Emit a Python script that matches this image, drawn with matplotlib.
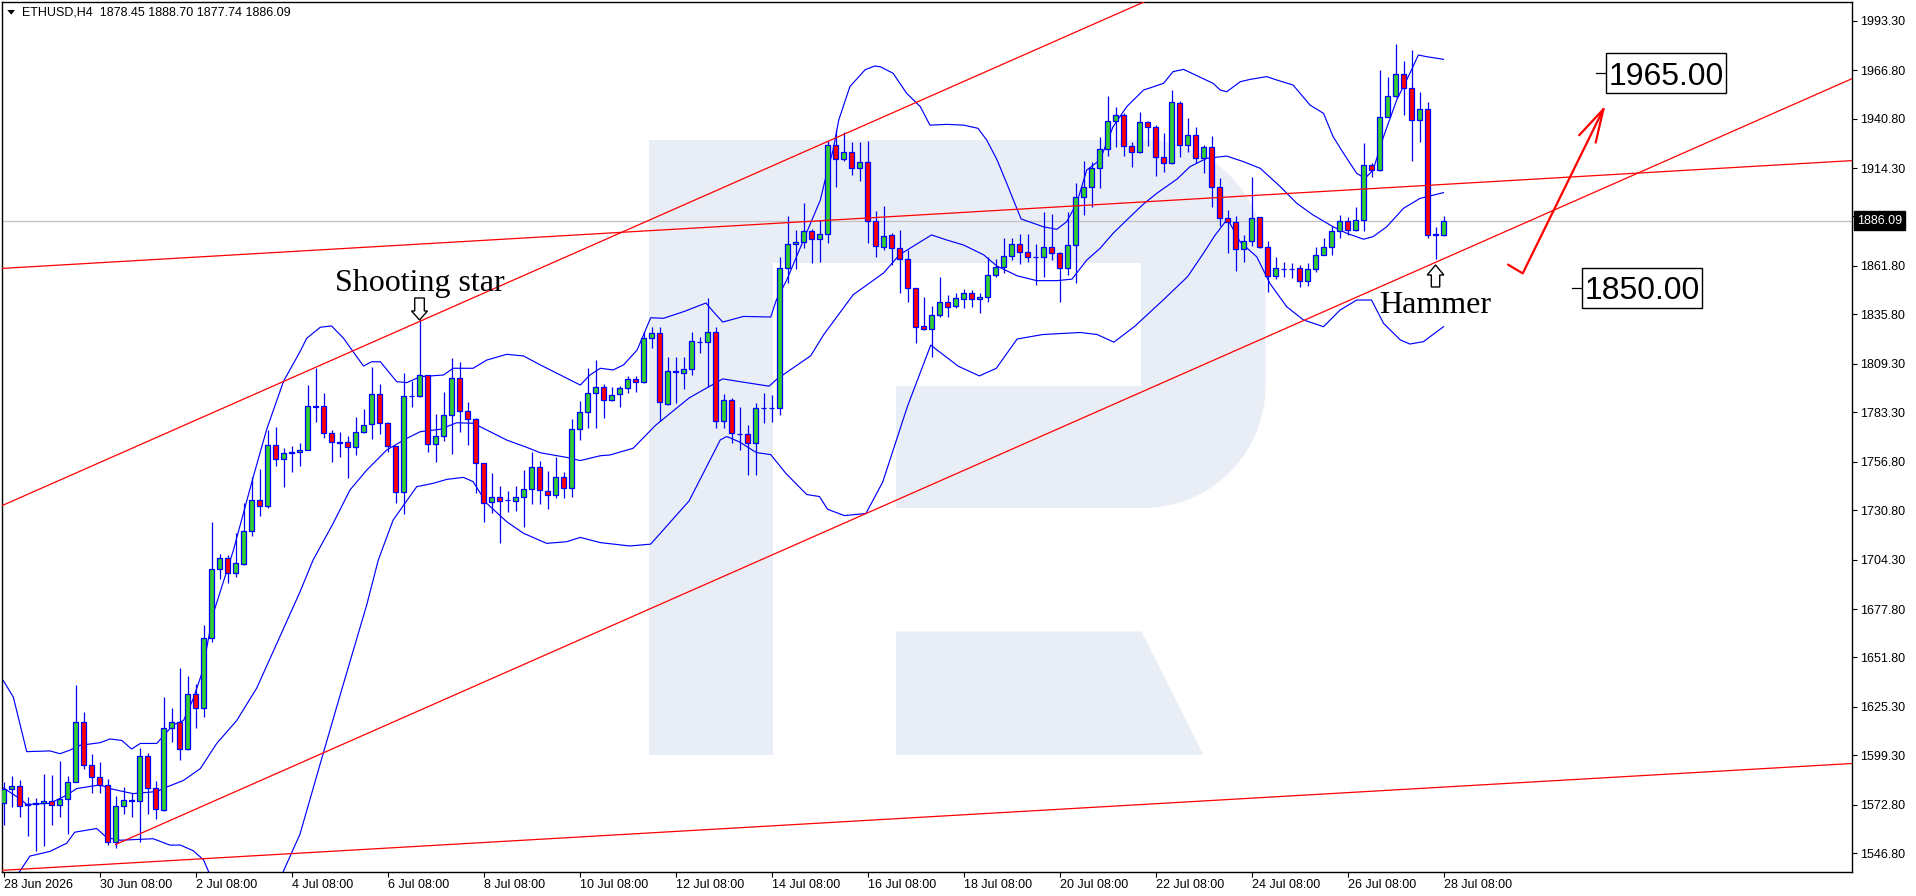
import numpy as np
import matplotlib
matplotlib.use("Agg")
import matplotlib.pyplot as plt
from matplotlib.patches import Rectangle, Polygon
from matplotlib.collections import LineCollection, PatchCollection
import matplotlib.transforms as mtransforms

plt.rcParams['font.family'] = ['Liberation Sans', 'DejaVu Sans']

# ---------------- data ----------------
symbol = "ETHUSD,H4"

opens = [1574.0, 1581.5, 1582.7, 1572.8, 1573.2, 1573.6, 1574.8, 1572.8, 1576.0, 1585.1,
         1617.2, 1594.2, 1587.7, 1583.5, 1552.6, 1572.4, 1575.0, 1575.0, 1599.0, 1581.9,
         1570.0, 1614.0, 1617.2, 1602.7, 1632.1, 1624.5, 1662.2, 1699.2, 1705.2, 1696.9,
         1702.2, 1719.6, 1736.1, 1732.9, 1765.6, 1758.3, 1761.7, 1761.9, 1763.3, 1786.7,
         1786.7, 1772.0, 1767.2, 1767.2, 1764.5, 1772.6, 1777.0, 1792.9, 1777.6, 1765.0,
         1740.4, 1792.0, 1792.2, 1803.1, 1766.3, 1770.6, 1781.8, 1801.5, 1784.0, 1779.7,
         1755.9, 1735.2, 1738.0, 1736.3, 1735.7, 1737.7, 1742.2, 1753.8, 1741.1, 1738.8,
         1748.4, 1742.5, 1774.2, 1783.3, 1793.5, 1796.7, 1789.9, 1792.9, 1796.2, 1801.0,
         1799.4, 1822.9, 1825.6, 1787.7, 1805.3, 1804.6, 1806.3, 1821.2, 1820.8, 1826.2,
         1778.4, 1789.9, 1771.6, 1771.6, 1766.6, 1785.4, 1785.4, 1785.4, 1860.5, 1873.4,
         1874.8, 1880.7, 1876.0, 1878.7, 1926.6, 1918.9, 1923.1, 1914.1, 1917.7, 1885.9,
         1871.8, 1878.4, 1871.2, 1865.3, 1849.8, 1829.6, 1827.8, 1835.3, 1842.3, 1840.5,
         1844.2, 1847.1, 1844.2, 1845.3, 1856.7, 1861.0, 1867.1, 1873.4, 1869.4, 1866.4,
         1866.4, 1871.8, 1868.5, 1860.5, 1872.8, 1898.9, 1904.3, 1914.1, 1924.3, 1939.3,
         1942.5, 1926.1, 1922.7, 1938.8, 1936.1, 1920.4, 1916.8, 1949.3, 1926.5, 1931.8,
         1919.5, 1925.7, 1903.9, 1887.3, 1885.5, 1870.7, 1875.3, 1887.8, 1872.1, 1856.6,
         1860.1, 1860.1, 1860.5, 1853.7, 1860.0, 1867.5, 1871.8, 1880.5, 1885.7, 1881.1,
         1886.2, 1915.7, 1913.2, 1941.8, 1952.9, 1964.7, 1957.0, 1940.1, 1946.1, 1878.4,
         1878.45]
highs = [1584.9, 1588.3, 1586.3, 1577.0, 1576.4, 1589.4, 1588.9, 1596.4, 1588.3, 1637.0,
         1622.5, 1599.8, 1595.8, 1586.7, 1577.6, 1582.3, 1578.9, 1603.3, 1600.8, 1585.3,
         1630.5, 1624.5, 1645.9, 1642.0, 1637.4, 1669.1, 1724.6, 1707.2, 1706.8, 1718.3,
         1734.5, 1748.4, 1752.8, 1773.8, 1775.5, 1764.2, 1765.2, 1766.6, 1797.9, 1806.9,
         1793.5, 1773.8, 1772.6, 1770.6, 1780.6, 1785.2, 1807.4, 1798.3, 1777.9, 1765.0,
         1804.2, 1800.2, 1832.8, 1803.1, 1782.4, 1794.4, 1812.6, 1810.3, 1788.8, 1780.1,
         1755.9, 1750.6, 1743.8, 1741.1, 1743.8, 1752.3, 1762.2, 1757.4, 1751.6, 1759.1,
         1751.1, 1779.7, 1789.5, 1806.9, 1811.3, 1798.5, 1797.0, 1797.4, 1802.8, 1802.8,
         1827.1, 1828.8, 1828.8, 1812.8, 1812.8, 1812.8, 1826.4, 1823.8, 1844.4, 1829.2,
         1793.1, 1790.8, 1786.3, 1776.5, 1788.1, 1793.8, 1792.4, 1866.8, 1888.5, 1881.0,
         1895.4, 1881.6, 1886.4, 1929.0, 1934.7, 1933.8, 1928.4, 1928.4, 1929.0, 1891.4,
         1893.9, 1879.3, 1881.0, 1870.3, 1849.8, 1845.3, 1840.3, 1856.0, 1846.2, 1847.1,
         1849.2, 1848.9, 1847.1, 1866.4, 1865.3, 1876.6, 1876.6, 1878.9, 1878.9, 1873.5,
         1890.9, 1889.6, 1869.4, 1890.9, 1906.4, 1918.2, 1917.7, 1930.7, 1953.1, 1946.8,
         1943.6, 1928.1, 1944.5, 1939.7, 1937.2, 1933.2, 1956.1, 1950.4, 1940.9, 1936.1,
         1926.6, 1931.5, 1908.8, 1891.8, 1888.6, 1878.4, 1909.7, 1888.2, 1875.3, 1866.4,
         1863.7, 1863.2, 1862.3, 1863.2, 1872.1, 1876.6, 1883.2, 1889.1, 1887.8, 1893.2,
         1927.5, 1917.2, 1966.9, 1962.9, 1980.8, 1971.9, 1977.6, 1955.2, 1949.9, 1882.5,
         1888.70]
lows = [1562.1, 1571.6, 1566.5, 1556.2, 1548.2, 1550.6, 1562.1, 1566.5, 1557.1, 1584.9,
        1591.8, 1578.9, 1578.9, 1551.0, 1549.8, 1568.0, 1566.1, 1552.6, 1568.0, 1565.1,
        1569.6, 1606.7, 1596.8, 1602.1, 1614.0, 1620.0, 1660.2, 1693.9, 1691.9, 1694.9,
        1701.4, 1716.7, 1727.6, 1732.1, 1754.7, 1743.4, 1751.4, 1754.3, 1763.1, 1778.3,
        1769.3, 1756.5, 1759.5, 1748.2, 1760.4, 1772.4, 1768.8, 1771.5, 1762.2, 1734.5,
        1728.6, 1786.3, 1791.7, 1762.2, 1756.8, 1768.1, 1760.7, 1772.9, 1765.7, 1740.2,
        1724.6, 1729.1, 1713.0, 1730.0, 1730.5, 1721.6, 1733.9, 1734.1, 1731.3, 1737.2,
        1737.2, 1737.7, 1768.4, 1774.7, 1774.7, 1780.4, 1789.3, 1785.9, 1793.8, 1794.4,
        1798.8, 1817.9, 1778.8, 1787.2, 1788.5, 1796.0, 1803.5, 1814.9, 1797.0, 1774.7,
        1774.7, 1767.0, 1763.1, 1749.7, 1749.7, 1777.7, 1778.3, 1781.8, 1852.5, 1860.0,
        1871.6, 1863.6, 1864.1, 1874.3, 1903.9, 1918.2, 1910.5, 1907.5, 1874.3, 1866.8,
        1870.3, 1862.3, 1847.4, 1842.6, 1820.3, 1827.4, 1813.1, 1834.6, 1834.6, 1839.0,
        1839.0, 1839.6, 1836.7, 1842.6, 1855.7, 1857.8, 1865.0, 1862.8, 1864.1, 1851.4,
        1856.0, 1865.0, 1842.6, 1856.9, 1852.8, 1889.1, 1893.6, 1903.8, 1920.7, 1925.4,
        1920.7, 1914.7, 1922.1, 1926.1, 1910.2, 1912.3, 1916.3, 1920.4, 1923.1, 1916.8,
        1911.8, 1893.6, 1883.2, 1868.9, 1859.2, 1864.1, 1872.5, 1871.2, 1847.6, 1854.6,
        1855.7, 1855.1, 1850.7, 1851.0, 1858.7, 1867.5, 1867.5, 1876.6, 1878.4, 1880.3,
        1880.7, 1909.7, 1912.9, 1941.5, 1952.6, 1942.7, 1918.2, 1928.4, 1876.6, 1865.3,
        1877.74]
closes = [1581.5, 1582.9, 1572.4, 1573.2, 1573.6, 1575.0, 1572.8, 1576.0, 1585.1, 1617.2,
          1594.2, 1587.9, 1583.5, 1552.6, 1572.0, 1575.4, 1575.4, 1599.0, 1581.9, 1570.4,
          1614.0, 1617.2, 1602.7, 1632.1, 1624.7, 1662.2, 1699.2, 1705.2, 1696.9, 1702.4,
          1719.6, 1736.1, 1732.9, 1765.6, 1758.3, 1761.3, 1762.1, 1763.3, 1786.7, 1786.3,
          1772.0, 1767.2, 1767.0, 1764.5, 1772.6, 1776.3, 1792.9, 1777.4, 1765.2, 1740.4,
          1792.0, 1792.2, 1803.1, 1766.3, 1770.6, 1781.8, 1801.5, 1784.0, 1779.7, 1755.9,
          1734.5, 1738.0, 1735.9, 1736.3, 1737.7, 1742.2, 1753.8, 1741.6, 1738.8, 1748.4,
          1742.5, 1774.2, 1783.3, 1793.5, 1797.0, 1789.9, 1792.8, 1796.2, 1801.0, 1799.4,
          1822.9, 1825.6, 1788.6, 1805.3, 1804.9, 1806.3, 1821.3, 1821.2, 1826.2, 1778.4,
          1789.9, 1772.0, 1771.6, 1766.6, 1785.4, 1785.4, 1785.4, 1860.5, 1873.4, 1874.8,
          1880.7, 1876.0, 1878.7, 1926.6, 1918.9, 1923.1, 1914.1, 1917.7, 1885.9, 1872.5,
          1878.0, 1871.2, 1865.3, 1849.8, 1829.2, 1827.8, 1835.3, 1842.3, 1839.9, 1844.4,
          1847.1, 1844.2, 1845.3, 1856.7, 1861.0, 1867.1, 1873.4, 1869.4, 1866.4, 1866.4,
          1871.8, 1868.5, 1860.5, 1872.8, 1898.9, 1904.3, 1914.1, 1924.3, 1939.3, 1942.5,
          1926.1, 1922.7, 1938.8, 1936.1, 1920.4, 1916.8, 1949.5, 1926.5, 1931.8, 1919.5,
          1925.7, 1903.9, 1887.3, 1885.5, 1870.7, 1875.3, 1887.3, 1872.1, 1856.6, 1860.5,
          1860.1, 1860.1, 1853.7, 1860.0, 1867.5, 1871.8, 1880.5, 1885.7, 1881.1, 1886.2,
          1915.7, 1913.2, 1941.8, 1952.9, 1964.7, 1957.0, 1940.1, 1946.1, 1878.4, 1878.9,
          1886.09]

# Bollinger bands (x in bar numbers)
bb_upper_x = [-0.02, 1.23, 2.9, 5.8, 7.06, 8.3, 9.56, 12.06, 13.3, 14.8,
              16.0, 17.1, 19.15, 21.2, 22.5, 23.7, 24.8, 26.2, 28.7, 31.2,
              32.9, 35.0, 37.06, 37.9, 39.6, 41.0, 42.5, 43.7, 45.0, 46.0,
              47.1, 49.15, 50.4, 52.1, 55.0, 56.2, 58.7, 60.4, 62.9, 65.0,
              67.1, 69.6, 72.1, 73.3, 74.6, 76.2, 77.5, 79.2, 80.9, 82.5,
              85.1, 87.8, 88.9, 89.9, 92.5, 95.9, 96.6, 97.9, 100.0, 102.1,
              102.9, 103.7, 104.4, 105.8, 107.7, 108.9, 109.6, 111.2, 112.9, 114.6,
              115.8, 117.9, 120.0, 121.8, 122.9, 124.2, 125.4, 126.4, 127.2, 129.97,
              131.65, 132.9, 134.15, 135.4, 137.06, 138.7, 140.4, 142.5, 145.0, 146.2,
              147.5, 151.2, 152.1, 152.9, 154.6, 155.8, 157.9, 159.15, 161.2, 163.3,
              165.0, 166.2, 167.5, 169.15, 170.2, 171.2, 172.5, 174.15, 175.8, 176.85,
              177.9, 180.0]
bb_upper = [1639.4, 1630.5, 1601.3, 1601.7, 1600.2, 1602.1, 1604.7, 1606.1, 1608.1, 1607.3,
            1602.7, 1605.7, 1605.7, 1615.6, 1618.0, 1629.5, 1643.4, 1675.1, 1708.8, 1748.4,
            1774.2, 1799.9, 1815.8, 1823.0, 1828.9, 1829.6, 1823.0, 1815.8, 1808.1, 1810.4,
            1810.4, 1799.7, 1799.2, 1802.4, 1803.3, 1806.9, 1806.9, 1811.3, 1814.4, 1813.5,
            1808.7, 1803.3, 1797.9, 1803.3, 1806.9, 1806.0, 1808.7, 1816.7, 1834.0, 1833.7,
            1837.4, 1841.9, 1836.4, 1831.7, 1834.7, 1834.4, 1843.5, 1854.2, 1875.7, 1897.1,
            1911.5, 1924.0, 1940.0, 1958.0, 1967.0, 1969.0, 1968.6, 1965.1, 1954.3, 1947.2,
            1937.3, 1937.7, 1937.3, 1935.6, 1929.3, 1918.6, 1906.1, 1895.4, 1887.0, 1882.8,
            1881.4, 1885.5, 1895.4, 1913.2, 1918.6, 1936.5, 1947.2, 1956.1, 1959.7, 1966.0,
            1967.2, 1959.7, 1956.1, 1955.2, 1960.6, 1961.8, 1963.3, 1961.5, 1958.8, 1948.1,
            1943.6, 1931.1, 1922.2, 1911.4, 1908.8, 1913.2, 1931.1, 1950.8, 1965.1, 1974.9,
            1974.0, 1972.6]
bb_mid_x = [-0.02, 2.06, 2.9, 5.8, 7.9, 9.15, 12.06, 13.3, 15.4, 16.2,
            19.15, 20.4, 22.5, 24.6, 26.65, 29.15, 31.65, 34.15, 37.06, 38.7,
            41.2, 43.3, 45.4, 47.9, 50.4, 52.1, 54.6, 56.65, 58.7, 60.4,
            62.9, 65.4, 67.1, 70.4, 72.1, 74.6, 75.8, 78.7, 81.5, 85.7,
            89.9, 92.1, 95.7, 96.7, 100.9, 102.5, 106.2, 110.0, 112.0, 116.0,
            117.9, 120.0, 122.5, 124.15, 126.7, 129.15, 131.65, 133.55, 135.4, 137.06,
            138.7, 140.4, 142.5, 144.15, 146.7, 148.3, 150.4, 152.9, 155.0, 157.1,
            159.6, 161.65, 163.7, 166.2, 167.9, 170.0, 171.2, 172.9, 175.0, 177.06,
            180.0]
bb_mid = [1581.9, 1576.0, 1573.0, 1573.6, 1578.0, 1581.5, 1583.5, 1581.5, 1579.5, 1578.8,
          1579.9, 1582.3, 1585.9, 1592.2, 1605.7, 1618.0, 1635.4, 1659.2, 1687.0, 1704.1,
          1723.7, 1741.6, 1752.3, 1763.1, 1769.3, 1772.9, 1774.2, 1777.7, 1777.4, 1773.8,
          1768.4, 1764.5, 1761.6, 1759.1, 1757.4, 1760.0, 1760.4, 1764.0, 1776.3, 1791.0,
          1801.2, 1799.7, 1797.3, 1801.2, 1813.6, 1824.8, 1846.3, 1858.0, 1867.8, 1878.4,
          1875.7, 1873.0, 1867.8, 1861.8, 1856.5, 1853.9, 1853.9, 1854.7, 1864.9, 1871.2,
          1879.3, 1886.4, 1895.0, 1900.7, 1908.4, 1915.0, 1919.5, 1920.7, 1917.7, 1914.1,
          1904.3, 1895.4, 1889.1, 1882.8, 1879.3, 1876.1, 1877.5, 1882.8, 1892.7, 1898.0,
          1901.1]
bb_low_x = [-0.02, 2.06, 3.3, 5.8, 7.9, 8.9, 11.65, 12.9, 14.6, 18.7,
            20.8, 22.1, 23.7, 25.0, 25.6, 28.3, 31.4, 33.6, 35.0, 37.06,
            39.6, 42.1, 45.4, 46.85, 48.7, 51.65, 53.7, 55.4, 57.5, 58.7,
            60.4, 62.9, 65.0, 67.9, 70.4, 72.1, 74.6, 78.3, 80.9, 85.7,
            89.6, 90.4, 92.0, 94.1, 95.9, 97.8, 100.4, 102.0, 103.0, 105.1,
            107.8, 109.9, 113.0, 115.9, 119.35, 121.98, 124.1, 126.7, 129.9, 134.6,
            136.7, 138.8, 141.4, 145.1, 148.0, 149.98, 151.4, 153.0, 154.6, 156.65,
            158.3, 160.4, 162.5, 165.0, 167.06, 169.15, 171.0, 172.5, 174.6, 175.8,
            177.5, 179.15, 180.0]
bb_low = [1528.0, 1537.3, 1545.3, 1547.8, 1552.2, 1558.1, 1560.1, 1555.2, 1553.8, 1554.6,
          1551.2, 1551.2, 1548.2, 1543.3, 1537.3, 1515.0, 1508.0, 1522.0, 1537.3, 1557.1,
          1595.0, 1632.0, 1680.0, 1704.1, 1725.5, 1743.4, 1745.2, 1747.3, 1748.4, 1746.1,
          1734.5, 1724.6, 1718.4, 1713.0, 1713.9, 1716.2, 1713.4, 1711.6, 1712.6, 1735.8,
          1768.5, 1770.3, 1767.4, 1761.7, 1760.6, 1750.5, 1739.2, 1738.1, 1731.3, 1727.9,
          1729.0, 1745.9, 1786.6, 1819.3, 1808.0, 1802.8, 1806.9, 1822.6, 1825.0, 1826.1,
          1825.0, 1820.9, 1829.4, 1844.1, 1856.0, 1868.5, 1878.0, 1887.0, 1874.6, 1866.7,
          1852.4, 1839.9, 1832.8, 1829.2, 1838.1, 1843.5, 1843.5, 1831.0, 1822.1, 1819.9,
          1821.2, 1826.5, 1829.2]

# trend lines: two anchor points each (bar number, price), extended to the right
channel_upper = [(0, 1733.6), (52, 1832.0)]
channel_lower = [(14, 1551.5), (180, 1865.6)]
resistance_line = [(0, 1860.5), (180, 1905.5)]
support_line = [(0, 1537.7), (180, 1582.3)]

# forecast path
forecast_x = [187.98, 189.9, 199.98]
forecast_y = [1862.7, 1857.8, 1945.8]
forecast_head_x = [196.98, 199.03]
forecast_head_y = [1932.0, 1928.1]

target_levels = [1965.00, 1850.00]

date_labels = ["28 Jun 2026", "30 Jun 08:00", "2 Jul 08:00", "4 Jul 08:00", "6 Jul 08:00",
               "8 Jul 08:00", "10 Jul 08:00", "12 Jul 08:00", "14 Jul 08:00", "16 Jul 08:00",
               "18 Jul 08:00", "20 Jul 08:00", "22 Jul 08:00", "24 Jul 08:00", "26 Jul 08:00",
               "28 Jul 08:00"]
bars_per_label = 12

price_ticks = [1546.80, 1572.80, 1599.30, 1625.30, 1651.80, 1677.80, 1704.30, 1730.80,
               1756.80, 1783.30, 1809.30, 1835.80, 1861.80, 1888.30, 1914.30, 1940.80,
               1966.80, 1993.30]

# ---------------- figure ----------------
W, H = 1916, 896
fig = plt.figure(figsize=(W / 100, H / 100), dpi=100)
fig.patch.set_facecolor('white')
ax = fig.add_axes([2 / W, 24 / H, 1850 / W, 870 / H])
XMIN, XMAX = -0.19, 231.06
YMIN, YMAX = 1536.76, 2003.33
ax.set_xlim(XMIN, XMAX)
ax.set_ylim(YMIN, YMAX)

PX_PER_BAR = 1850 / (XMAX - XMIN)
PX_PER_PRICE = 870 / (YMAX - YMIN)

pxT = mtransforms.Affine2D().scale(1, -1).translate(0, H)

# watermark logo (pixel layout)
wm = '#e9eef6'
def wm_poly(pts):
    ax.add_patch(Polygon(pts, closed=True, facecolor=wm, edgecolor='none',
                         transform=pxT, zorder=0.5))

wm_poly([(649.4, 139.8), (773.1, 139.8), (773.1, 754.7), (649.4, 754.7)])
wm_poly([(649.4, 139.8), (1145.0, 139.8), (1145.0, 263.1), (649.4, 263.1)])
wm_poly([(896.0, 386.0), (1145.0, 386.0), (1145.0, 508.0), (896.0, 508.0)])
r = 122.0
cx = 1143.5
t1 = np.linspace(-np.pi / 2, 0, 30)
t2 = np.linspace(0, np.pi / 2, 30)
arc1 = [(cx + r * np.cos(t), 261.8 + r * np.sin(t)) for t in t1]
arc2 = [(cx + r * np.cos(t), 386.0 + r * np.sin(t)) for t in t2]
wm_poly([(1141.0, 139.8)] + arc1 + arc2 + [(1141.0, 508.0)])
wm_poly([(896.0, 631.4), (1141.4, 631.4), (1203.2, 754.7), (896.0, 754.7)])

# current price line
o = np.array(opens); h = np.array(highs); l = np.array(lows); c = np.array(closes)
ax.axhline(c[-1], color='#c0c0c0', lw=0.9, zorder=1)

# Bollinger bands
for bx, by in ((bb_upper_x, bb_upper), (bb_mid_x, bb_mid), (bb_low_x, bb_low)):
    ax.plot(bx, by, color='#0000ff', lw=0.85, zorder=2.5)

# candles
idx = np.arange(len(o))
wicks = LineCollection([[(i, l[i]), (i, h[i])] for i in idx], colors='#0000ff',
                       linewidths=0.9, zorder=3)
ax.add_collection(wicks)
bw = 0.56
bodies = [Rectangle((i - bw / 2, min(o[i], c[i])), bw, max(abs(c[i] - o[i]), 0.05)) for i in idx]
pc = PatchCollection(bodies, facecolors=['#32cd32' if c[i] >= o[i] else '#ff0000' for i in idx],
                     edgecolors='#0000ff', linewidths=0.9, zorder=4)
ax.add_collection(pc)

# trend lines
def ray(pts, x0, x1):
    (xa, ya), (xb, yb) = pts
    k = (yb - ya) / (xb - xa)
    return [x0, x1], [ya + k * (x0 - xa), ya + k * (x1 - xa)]

for pts, start in ((channel_upper, XMIN), (channel_lower, channel_lower[0][0]),
                   (resistance_line, XMIN), (support_line, XMIN)):
    xs, ys = ray(pts, start, XMAX)
    ax.plot(xs, ys, color='#ff0000', lw=0.9, zorder=5)

# forecast arrow
ax.plot(forecast_x, forecast_y, color='#ff0000', lw=1.6, zorder=6, solid_capstyle='butt')
for hx, hy in zip(forecast_head_x, forecast_head_y):
    ax.plot([hx, forecast_x[-1]], [hy, forecast_y[-1]], color='#ff0000', lw=1.6, zorder=6)

# target labels
box_left = [200.3, 197.35]
box_w = 15.0
box_h = 40 / PX_PER_PRICE
for lvl, bl in zip(target_levels, box_left):
    ax.plot([bl - 1.25, bl], [lvl, lvl], color='black', lw=0.9, zorder=7)
    ax.add_patch(Rectangle((bl, lvl - box_h / 2), box_w, box_h, facecolor='white',
                           edgecolor='black', lw=1.0, zorder=7))
    ax.text(bl + box_w / 2, lvl - 11.5 / PX_PER_PRICE, f"{lvl:.2f}", ha='center', va='baseline',
            fontsize=23, family=['Liberation Sans', 'DejaVu Sans'], color='black', zorder=8)

# hollow block arrows
def block_arrow(tip_x, tip_y, offsets):
    pts = [(tip_x + dx / PX_PER_BAR, tip_y + dy / PX_PER_PRICE) for dx, dy in offsets]
    ax.add_patch(Polygon(pts, closed=True, facecolor='white', edgecolor='black',
                         lw=1.0, zorder=8))

down_shape = [(0, 0), (-8, 9), (-4.8, 9), (-4.8, 22), (4.8, 22), (4.8, 9), (8, 9)]
up_shape = [(0, 0), (-8.3, -10), (-4.2, -10), (-4.2, -22), (4.2, -22), (4.2, -10), (8.3, -10)]
star_i = 52
hammer_i = 179
block_arrow(star_i, h[star_i], down_shape)
block_arrow(hammer_i, l[hammer_i] - 5.6 / PX_PER_PRICE, up_shape)

serif = ['Liberation Serif', 'DejaVu Serif']
ax.text(star_i, h[star_i] + 29 / PX_PER_PRICE, "Shooting star", ha='center', va='baseline',
        fontsize=23, family=serif, color='black', zorder=8)
ax.text(hammer_i - 0.1, l[hammer_i] - 54 / PX_PER_PRICE, "Hammer", ha='center', va='baseline',
        fontsize=23, family=serif, color='black', zorder=8)

# axes styling
for s in ax.spines.values():
    s.set_color('black')
    s.set_linewidth(1.0)
ax.yaxis.tick_right()
ax.set_yticks(price_ticks)
ax.set_yticklabels([f"{v:.2f}" for v in price_ticks])
ax.tick_params(axis='y', which='both', direction='out', length=3.5, width=0.8, pad=2,
               labelsize=9, colors='black', left=False, right=True)
ax.set_xticks([k * bars_per_label for k in range(len(date_labels))])
ax.set_xticklabels(date_labels)
for t in ax.get_xticklabels():
    t.set_ha('left')
ax.tick_params(axis='x', direction='out', length=3.5, width=0.8, pad=1.5, labelsize=9,
               colors='black', top=False)

# current price tag on the axis
trb = mtransforms.blended_transform_factory(ax.transAxes, ax.transData)
ax.text(1.0028, c[-1], f"{c[-1]:.2f}", transform=trb, ha='left', va='center', fontsize=9,
        color='white', zorder=20, clip_on=False,
        bbox=dict(boxstyle='square,pad=0.25', fc='black', ec='black'))

# title
fig.add_artist(Polygon([(7.3, 10.0), (15.0, 10.0), (11.2, 14.7)], closed=True,
                       facecolor='black', edgecolor='none', transform=pxT))
fig.text(21.5 / W, 1 - 12.7 / H,
         f"{symbol}  {o[-1]:.2f} {h[-1]:.2f} {l[-1]:.2f} {c[-1]:.2f}",
         ha='left', va='center', fontsize=9, color='black')

fig.savefig('out.png', dpi=100, facecolor='white')
